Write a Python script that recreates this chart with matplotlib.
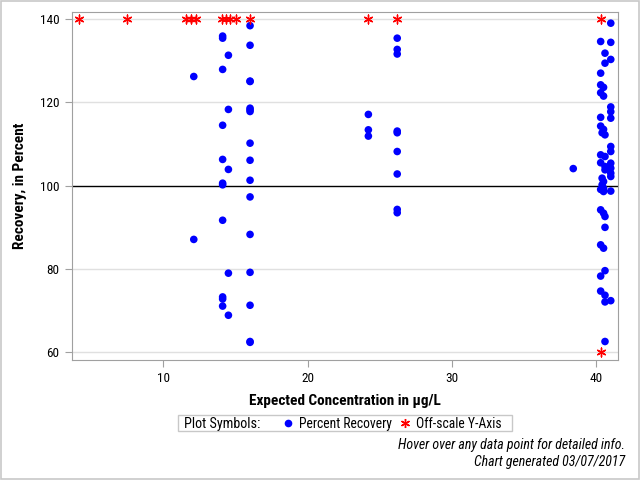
import matplotlib
matplotlib.use("Agg")
import matplotlib.pyplot as plt
from matplotlib.lines import Line2D
from matplotlib.patches import Rectangle
from matplotlib import font_manager

# ---- data ----
conc = ([12.1, 12.1]
        + [14.1] * 11
        + [14.5] * 5
        + [16.0] * 16
        + [24.2] * 3
        + [26.2] * 9
        + [38.4]
        + [41.0] * 14
        + [40.3, 40.6, 40.6, 40.3, 40.3, 40.5, 40.3, 40.5, 40.3,
           40.3, 40.5, 40.4, 40.6, 40.3, 40.6, 40.3, 40.6, 40.6,
           40.4, 40.5, 40.4, 40.5, 40.4, 40.5, 40.3,
           40.3, 40.5, 40.6, 40.6, 40.3, 40.5, 40.6, 40.3, 40.3, 40.6, 40.6, 40.6])
recovery = ([126.2, 87.1]
            + [135.9, 135.4, 127.9, 114.5, 106.3, 100.6, 100.2, 91.7, 73.3, 72.8, 71.1]
            + [131.3, 118.3, 103.9, 79.0, 68.9]
            + [138.4, 133.7, 125.1, 125.0, 118.6, 118.2, 117.8, 110.2, 106.1, 101.3,
               97.3, 88.3, 79.2, 71.3, 62.4, 62.6]
            + [117.1, 113.4, 111.9]
            + [135.4, 132.7, 131.6, 113.1, 112.7, 108.2, 102.8, 94.3, 93.5]
            + [104.1]
            + [139.0, 134.4, 130.3, 118.9, 117.75, 116.2, 109.4, 108.2, 105.4, 104.2,
               103.0, 102.2, 98.7, 72.4]
            + [134.6, 131.8, 129.4, 127.0, 124.2, 123.6, 122.3, 121.5, 116.4,
               114.3, 113.5, 112.7, 112.2, 107.4, 107.0, 105.5, 104.6, 103.8,
               101.8, 101.0, 100.2, 99.4, 99.0, 98.6, 99.1,
               94.2, 93.4, 92.6, 90.0, 85.8, 85.0, 79.6, 78.3, 74.7, 73.7, 72.1, 62.6])
off_conc = [4.17, 7.5, 11.57, 11.92, 12.27, 14.07, 14.35, 14.63, 15.0, 15.97,
            24.2, 26.2, 40.3, 40.3]
off_y = [140] * 13 + [60]

xticks = [10, 20, 30, 40]
yticks = [60, 80, 100, 120, 140]

# ---- fonts ----
avail = {f.name for f in font_manager.fontManager.ttflist}
fam = [f for f in ["Liberation Sans Narrow", "Roboto Condensed", "Liberation Sans", "DejaVu Sans"]
       if f in avail]
plt.rcParams['font.family'] = fam
plt.rcParams['font.stretch'] = 'condensed'

fig = plt.figure(figsize=(6.4, 4.8), dpi=100)
fig.patch.set_facecolor('white')
fig.add_artist(Rectangle((0.002, 0.002), 0.996, 0.996, transform=fig.transFigure,
                         fill=False, edgecolor='#c8c8c8', linewidth=1.2))

ax = fig.add_axes([0.1125, 0.25, 0.8531, 0.7256])
ax.set_xlim(3.66, 41.5)
ax.set_ylim(58.16, 141.75)

for y in yticks:
    if y != 100:
        ax.axhline(y, color='#e0e0e0', linewidth=1, zorder=0)
ax.axhline(100, color='black', linewidth=1, zorder=1)

ax.scatter(conc, recovery, s=30, color='#0000ff', edgecolors='none', zorder=3)
ax.scatter(off_conc, off_y, s=40, marker=(6, 2, 0), color='#ff0000', linewidths=1, zorder=3)

ax.set_xticks(xticks)
ax.set_yticks(yticks)
for s in ax.spines.values():
    s.set_color('#a0a0a0')
ax.tick_params(colors='#a0a0a0', labelcolor='black', labelsize=9.5, length=5, pad=4)

ax.set_xlabel('Expected Concentration in µg/L', fontsize=11, fontweight='bold', labelpad=6)
ax.set_ylabel('Recovery, in Percent', fontsize=11, fontweight='bold', labelpad=9)

# legend
fig.add_artist(Rectangle((0.278, 0.102), 0.522, 0.0333, transform=fig.transFigure,
                         fill=False, edgecolor='#c8c8c8', linewidth=1))
fig.text(0.2875, 0.1177, 'Plot Symbols:', fontsize=10.2, va='center', ha='left')
handles = [Line2D([], [], linestyle='none', marker='o', color='#0000ff', markersize=5.5,
                  markeredgewidth=0),
           Line2D([], [], linestyle='none', marker=(6, 2, 0), color='#ff0000', markersize=6.5,
                  markeredgewidth=1)]
fig.legend(handles, ['Percent Recovery', 'Off-scale Y-Axis'], ncol=2, frameon=False,
           loc='center left', bbox_to_anchor=(0.439, 0.1177), fontsize=9.8,
           handlelength=1.0, handletextpad=0.3, columnspacing=0.5, borderpad=0,
           borderaxespad=0)

fig.text(0.977, 0.0729, 'Hover over any data point for detailed info.', fontsize=10,
         style='italic', ha='right', va='center')
fig.text(0.977, 0.037, 'Chart generated 03/07/2017', fontsize=10,
         style='italic', ha='right', va='center')

fig.savefig('out.png', dpi=100)
